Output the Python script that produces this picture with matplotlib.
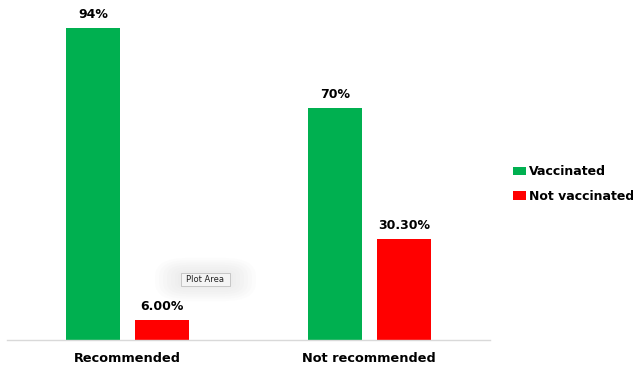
import matplotlib.pyplot as plt
import numpy as np
from matplotlib.patches import FancyBboxPatch

categories = ['Recommended', 'Not recommended']
vaccinated = [94, 70]
not_vaccinated = [6.0, 30.3]
vaccinated_labels = ['94%', '70%']
not_vaccinated_labels = ['6.00%', '30.30%']

GREEN = '#00B050'
RED = '#FF0000'

fig = plt.figure(figsize=(6.33, 3.68), dpi=100)
ax = fig.add_axes([7 / 633, 28 / 368, 483 / 633, 332 / 368])

x = np.arange(len(categories))
width = 0.224
offset = 0.143

bars_v = ax.bar(x - offset, vaccinated, width, color=GREEN, label='Vaccinated')
bars_n = ax.bar(x + offset, not_vaccinated, width, color=RED, label='Not vaccinated')

for bars, labels in [(bars_v, vaccinated_labels), (bars_n, not_vaccinated_labels)]:
    for bar, text in zip(bars, labels):
        ax.annotate(text, (bar.get_x() + bar.get_width() / 2, bar.get_height()),
                    xytext=(0, 5), textcoords='offset points',
                    ha='center', va='bottom', fontsize=9, fontweight='bold')

ax.set_xlim(-0.5, 1.5)
ax.set_ylim(0, 100)
ax.set_xticks(x)
ax.set_xticklabels(categories, fontsize=9.3, fontweight='bold')
ax.tick_params(axis='x', length=0, pad=9)
ax.set_yticks([])
for side in ['top', 'right', 'left']:
    ax.spines[side].set_visible(False)
ax.spines['bottom'].set_color('#d9d9d9')
ax.spines['bottom'].set_linewidth(1.0)

# Excel hover tooltip over the plot area, with a soft glow around it
box_x, box_y, box_w, box_h = 181 / 633, 1 - 286 / 368, 49 / 633, 13 / 368
for pad in [26, 22, 18, 14, 10, 6, 3]:
    glow = FancyBboxPatch((box_x, box_y), box_w, box_h,
                          boxstyle=f'round,pad={pad / 633},rounding_size={(pad + 6) / 633}',
                          transform=fig.transFigure, facecolor='#a0a0a0',
                          edgecolor='none', alpha=0.022, zorder=5)
    fig.add_artist(glow)
tip = FancyBboxPatch((box_x, box_y), box_w, box_h,
                     boxstyle='square,pad=0', transform=fig.transFigure,
                     facecolor='#f4f4f4', edgecolor='#c0c0c0', linewidth=0.6, zorder=6)
fig.add_artist(tip)
fig.text(205.5 / 633, 1 - 279.5 / 368, 'Plot Area', fontsize=6, ha='center',
         va='center', color='#222222', zorder=7)

fig.legend(handles=[bars_v, bars_n], loc='center left',
           bbox_to_anchor=(513 / 633, 1 - 184 / 368), frameon=False,
           prop={'size': 9, 'weight': 'bold'}, handlelength=1.0, handleheight=0.7,
           handletextpad=0.3, labelspacing=0.9, borderpad=0, borderaxespad=0)

fig.savefig('out.png', dpi=100)
